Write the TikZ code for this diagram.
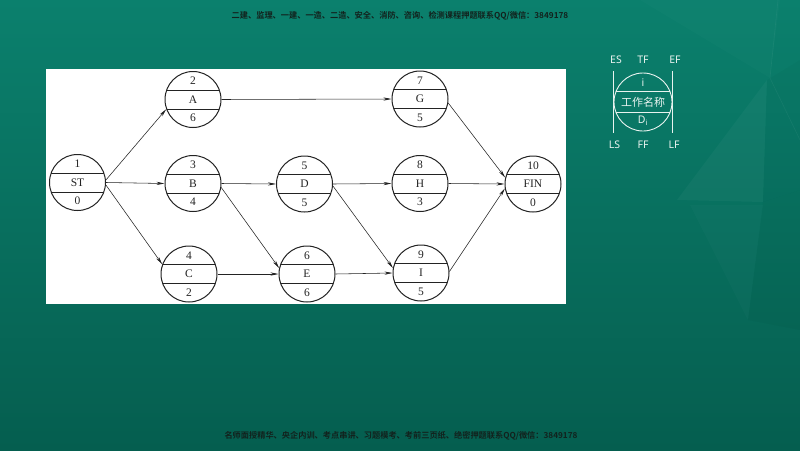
\documentclass[tikz,border=0pt]{standalone}
\usepackage{fontspec}
\setmainfont{Liberation Serif}
\newfontfamily\cjk{Noto Sans CJK SC}[BoldFont={Noto Sans CJK SC Bold}]
\newfontfamily\lsans{Noto Sans}
\usetikzlibrary{arrows.meta,calc}
\definecolor{bgtop}{RGB}{11,128,109}
\definecolor{bgbot}{RGB}{5,94,79}
\definecolor{ink}{RGB}{35,35,35}
\definecolor{legendc}{RGB}{232,243,239}
\definecolor{toptext}{RGB}{18,34,29}
\newcommand\evnode[6]{%
  \node[evt] (#1) at (#2,#3) {#5};
  \node[lab] (#1t) at ([yshift=18.5pt]#1.center) {#4};
  \node[lab] (#1b) at ([yshift=-18.5pt]#1.center) {#6};}
\begin{document}
\begin{tikzpicture}[x=1pt,y=-1pt,
  evt/.style={circle,draw=ink,line width=1pt,minimum size=56pt,inner sep=0pt,
    font=\fontsize{11.5}{13}\selectfont,text=ink,
    path picture={\draw[ink,line width=0.9pt]
      ([yshift=9.5pt]path picture bounding box.west) -- ([yshift=9.5pt]path picture bounding box.east)
      ([yshift=-9.5pt]path picture bounding box.west) -- ([yshift=-9.5pt]path picture bounding box.east);}},
  lab/.style={font=\fontsize{11.5}{13}\selectfont,text=ink,inner sep=0pt},
  arr/.style={draw=ink,line width=0.55pt,-{Stealth[length=8pt,width=3.2pt]}},
  legcirc/.style={circle,draw=legendc,line width=0.9pt,minimum size=58pt,inner sep=0pt,
    path picture={\draw[legendc,line width=0.9pt]
      ([yshift=10.8pt]path picture bounding box.west) -- ([yshift=10.8pt]path picture bounding box.east)
      ([yshift=-10.8pt]path picture bounding box.west) -- ([yshift=-10.8pt]path picture bounding box.east);}},
  legtxt/.style={font=\lsans\fontsize{10.5}{12}\selectfont,text=legendc,inner sep=0pt},
  bantxt/.style={font=\cjk\bfseries\fontsize{8.2}{9}\selectfont,text=toptext,inner sep=0pt}
]
\useasboundingbox (0,0) rectangle (800,450);
% background
\shade[top color=bgtop,bottom color=bgbot] (0,0) rectangle (800,450);
\fill[white,opacity=0.015] (640,0) -- (780,0) -- (770,78) -- cycle;
\fill[white,opacity=0.035] (677,200) -- (767,80) -- (763,202) -- cycle;
\fill[white,opacity=0.02] (690,205) -- (763,205) -- (748,320) -- cycle;
\fill[black,opacity=0.025] (763,202) -- (800,190) -- (800,330) -- (748,320) -- cycle;
\fill[black,opacity=0.02] (767,80) -- (800,60) -- (800,190) -- (763,202) -- cycle;
\draw[white,opacity=0.05,line width=0.6pt] (778,0) -- (770,78) -- (800,140);
% white panel
\fill[white] (46,69) rectangle (566,304);
% banners
\node[bantxt] (topban) at (400,16) {二建、监理、一建、一造、二造、安全、消防、咨询、检测课程押题联系QQ/微信：3849178};
\node[bantxt] (botban) at (401,436) {名师面授精华、央企内训、考点串讲、习题模考、考前三页纸、绝密押题联系QQ/微信：3849178};
% network
\evnode{ST}{77.5}{182.5}{1}{ST}{0}
\evnode{A}{193}{99.5}{2}{A}{6}
\evnode{B}{193}{183.5}{3}{B}{4}
\evnode{C}{189}{274}{4}{C}{2}
\evnode{D}{304.5}{184}{5}{D}{5}
\evnode{E}{307}{274}{6}{E}{6}
\evnode{G}{420}{99}{7}{G}{5}
\evnode{H}{420}{183.5}{8}{H}{3}
\evnode{I}{421}{273}{9}{I}{5}
\evnode{FIN}{533}{184}{10}{FIN}{0}
\draw[arr] (ST.5) -- (A.200);
\draw[arr] (ST.east) -- (B.west);
\draw[arr] (ST.-5) -- (C.160);
\draw[arr] (A.east) -- (G.west);
\draw[arr] (B.east) -- (D.west);
\draw[arr] (B.-8) -- (E.168);
\draw[arr] (C.east) -- (E.west);
\draw[arr] (D.east) -- (H.west);
\draw[arr] (D.-4) -- (I.170);
\draw[arr] (E.east) -- (I.west);
\draw[arr] (G.-8) -- (FIN.167);
\draw[arr] (H.east) -- (FIN.west);
\draw[arr] (I.3) -- (FIN.189);
% legend
\node[legcirc] (leg) at (643,102) {};
\node[legtxt] (legi) at (643,82.5) {i};
\node[legtxt,font=\cjk\fontsize{11}{12}\selectfont] (legname) at (643,102.5) {工作名称};
\node[legtxt] (legd) at (643,121) {D\textsubscript{i}};
\draw[legendc,line width=0.9pt] ([yshift=31pt]leg.west) -- ([yshift=-31pt]leg.west);
\draw[legendc,line width=0.9pt] ([yshift=31pt]leg.east) -- ([yshift=-31pt]leg.east);
\node[legtxt] (es) at (616,60) {ES};
\node[legtxt] (tf) at (643,60) {TF};
\node[legtxt] (ef) at (675,60) {EF};
\node[legtxt] (ls) at (614.5,145) {LS};
\node[legtxt] (ff) at (643,145) {FF};
\node[legtxt] (lf) at (674,145) {LF};
\end{tikzpicture}
\end{document}
